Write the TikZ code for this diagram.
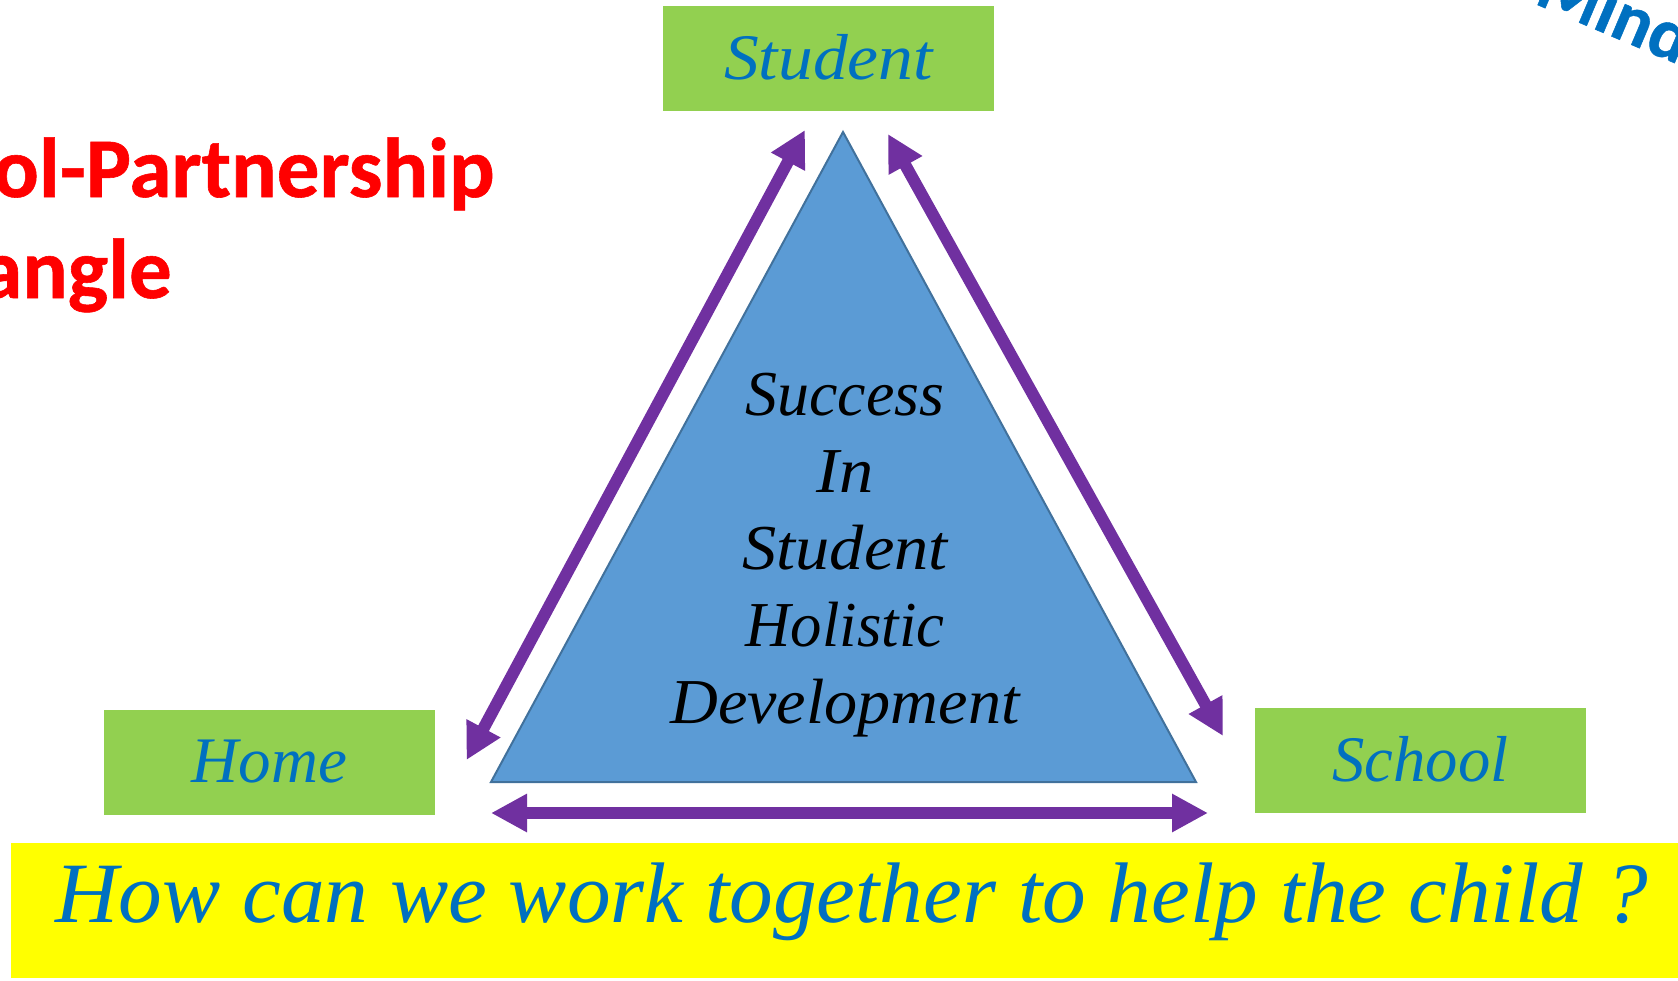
\documentclass[tikz,border=0pt]{standalone}
\usepackage{fontspec}
\setmainfont{Liberation Serif}
\newfontfamily\ital[ItalicFont={Liberation Serif Italic},FakeStretch=1.07]{Liberation Serif}
\newfontfamily\italn[ItalicFont={Liberation Serif Italic},FakeStretch=1.015]{Liberation Serif}
\newfontfamily\carl[BoldFeatures={FakeBold=0.7}]{Carlito}
\usetikzlibrary{arrows.meta}
\definecolor{cgreen}{HTML}{92D050}
\definecolor{cblue}{HTML}{0070C0}
\definecolor{cpurple}{HTML}{7030A0}
\definecolor{cfill}{HTML}{5B9BD5}
\definecolor{cedge}{HTML}{41719C}
\definecolor{cyellow}{HTML}{FFFF00}
\definecolor{cred}{HTML}{FF0000}
\newcommand{\sx}[2]{\scalebox{#1}[1]{#2}}
\tikzset{
  greenbox/.style={fill=cgreen,inner sep=0pt,minimum width=331pt,minimum height=105pt,text=cblue,font=\ital\itshape\fontsize{65}{78}\selectfont},
  dblarrow/.style={cpurple,line width=12pt,{Triangle[width=36pt,length=36pt]}-{Triangle[width=36pt,length=36pt]}},
  headline/.style={text=cred,inner sep=0pt,anchor=base west,font=\carl\bfseries\fontsize{85}{100}\selectfont}
}
\begin{document}
\begin{tikzpicture}[x=1pt,y=-1pt]
\useasboundingbox (0,0) rectangle (1678,980);
\clip (0,0) rectangle (1678,980);
\node[greenbox] (student) at (828.5,58.5) {\raisebox{3pt}{Student}};
\node[greenbox] (home) at (269.5,762) {\raisebox{1pt}{\sx{.935}{Home}}};
\node[greenbox] (school) at (1420.5,760) {\raisebox{2pt}{\sx{.93}{School}}};
\node[fill=cyellow,inner sep=0pt,minimum width=1667pt,minimum height=135pt,anchor=north west] (banner) at (11,843) {};
\node[text=cblue,inner sep=0pt,anchor=base,font=\italn\itshape\fontsize{86}{100}\selectfont] (question) at (852,922) {How can we work together to help the child ?};
\draw[cedge,fill=cfill,line width=2pt,line join=miter] (843,132) coordinate (apex) -- (1196,782) coordinate (tr) -- (491,782) coordinate (tl) -- cycle;
\node[inner sep=0pt,align=center,font=\ital\itshape\fontsize{64}{77}\selectfont] (centre) at (845,555) {\sx{.934}{Success}\\In\\Student\\\sx{.916}{Holistic}\\\sx{.967}{Development}};
\node[headline] (t1) at (-7,197) {ol-Partnership};
\node[headline] (t2) at (-20,298) {angle};
\node[text=cblue,inner sep=0pt,anchor=base west,rotate=-23,font=\carl\bfseries\fontsize{72}{80}\selectfont] (mind) at (1533,3) {Mind};
\coordinate (al1) at (805,130);
\coordinate (al2) at (466.5,760);
\coordinate (ar1) at (888,134);
\coordinate (ar2) at (1223,736);
\coordinate (ab1) at (491,813);
\coordinate (ab2) at (1208,813);
\draw[dblarrow] (al1) -- (al2);
\draw[dblarrow] (ar1) -- (ar2);
\draw[dblarrow] (ab1) -- (ab2);
\end{tikzpicture}
\end{document}
